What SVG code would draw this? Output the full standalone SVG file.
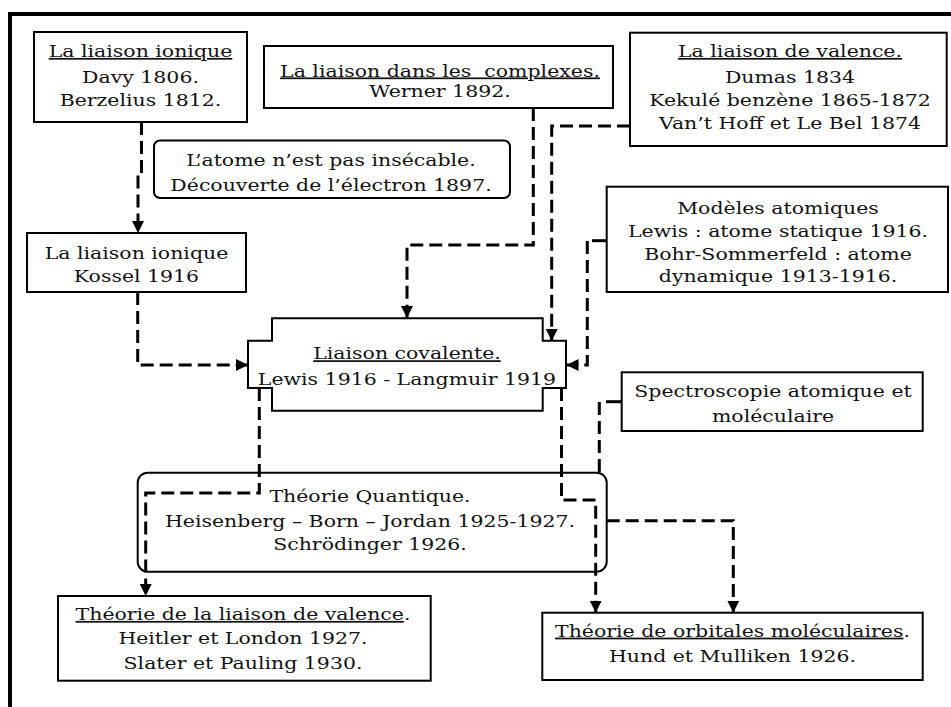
<svg xmlns="http://www.w3.org/2000/svg" width="951" height="707" viewBox="0 0 951 707">
  <style>
    .box { fill: #fff; stroke: #000; stroke-width: 2; }
    .frame { fill: none; stroke: #000; stroke-width: 4; }
    .link { fill: none; stroke: #000; stroke-width: 3; stroke-dasharray: 13 6; }
    .solid { fill: none; stroke: #000; stroke-width: 3; }
    text { font-family: "DejaVu Serif", "Liberation Serif", serif; font-size: 17.5px; fill: #111; text-anchor: middle; }
    .u { text-decoration: underline; }
  </style>
  <defs>
    <marker id="arrow" viewBox="0 0 12 12" refX="12" refY="6" markerWidth="12" markerHeight="12" markerUnits="userSpaceOnUse" orient="auto">
      <path d="M0,0 L12,6 L0,12 Z" fill="#000"/>
    </marker>
  </defs>

  <rect width="951" height="707" fill="#fff"/>
  <!-- outer frame: top and left edges -->
  <path class="frame" d="M10,707 V14 H951"/>

  <g id="ionique-davy">
    <rect class="box" x="34" y="32" width="213" height="90"/>
    <text transform="translate(140.5,57) scale(1.17,1)" class="u">La liaison ionique</text>
    <text transform="translate(140.5,83) scale(1.17,1)">Davy 1806.</text>
    <text transform="translate(140.5,106) scale(1.17,1)">Berzelius 1812.</text>
  </g>

  <g id="complexes">
    <rect class="box" x="264" y="46" width="349" height="62"/>
    <text transform="translate(440,76.5) scale(1.17,1)" class="u" style="white-space:pre">La liaison dans les  complexes.</text>
    <text transform="translate(440,96.7) scale(1.17,1)">Werner 1892.</text>
  </g>

  <g id="valence">
    <rect class="box" x="630" y="32.7" width="316.7" height="113.3"/>
    <text transform="translate(790,57) scale(1.17,1)" class="u">La liaison de valence.</text>
    <text transform="translate(790,83) scale(1.17,1)">Dumas 1834</text>
    <text transform="translate(790,106) scale(1.17,1)">Kekulé benzène 1865-1872</text>
    <text transform="translate(790,129) scale(1.17,1)">Van’t Hoff et Le Bel 1874</text>
  </g>

  <g id="electron">
    <rect class="box" x="154" y="140.5" width="356" height="57.5" rx="6"/>
    <text transform="translate(331,166) scale(1.17,1)">L’atome n’est pas insécable.</text>
    <text transform="translate(331,191) scale(1.17,1)">Découverte de l’électron 1897.</text>
  </g>

  <g id="ionique-kossel">
    <rect class="box" x="27" y="233" width="219" height="59"/>
    <text transform="translate(136.5,259) scale(1.17,1)">La liaison ionique</text>
    <text transform="translate(136.5,282) scale(1.17,1)">Kossel 1916</text>
  </g>

  <g id="modeles">
    <rect class="box" x="606.7" y="186.7" width="341.3" height="105.3"/>
    <text transform="translate(778,213.5) scale(1.17,1)">Modèles atomiques</text>
    <text transform="translate(778,236.7) scale(1.17,1)">Lewis : atome statique 1916.</text>
    <text transform="translate(778,259.5) scale(1.17,1)">Bohr-Sommerfeld : atome</text>
    <text transform="translate(778,282) scale(1.17,1)">dynamique 1913-1916.</text>
  </g>

  <g id="covalente">
    <path class="box" d="M272,318.3 H542.7 V340.7 H566 V388 H542.7 V410.7 H272 V388 H248 V340.7 H272 Z"/>
    <text transform="translate(407,359.3) scale(1.17,1)" class="u">Liaison covalente.</text>
    <text transform="translate(407,385) scale(1.17,1)">Lewis 1916 - Langmuir 1919</text>
  </g>

  <g id="spectroscopie">
    <rect class="box" x="621.7" y="372.3" width="301" height="58.7"/>
    <text transform="translate(773,396.7) scale(1.17,1)">Spectroscopie atomique et</text>
    <text transform="translate(773,421.7) scale(1.17,1)">moléculaire</text>
  </g>

  <g id="quantique">
    <rect class="box" x="137.7" y="472.7" width="469" height="99" rx="10"/>
    <text transform="translate(370,501.7) scale(1.17,1)">Théorie Quantique.</text>
    <text transform="translate(370,526.7) scale(1.17,1)">Heisenberg – Born – Jordan 1925-1927.</text>
    <text transform="translate(370,550) scale(1.17,1)">Schrödinger 1926.</text>
  </g>

  <g id="liaison-valence">
    <rect class="box" x="58" y="596" width="372.7" height="84.7"/>
    <text transform="translate(243,620) scale(1.17,1)"><tspan class="u">Théorie de la liaison de valence</tspan>.</text>
    <text transform="translate(243,644) scale(1.17,1)">Heitler et London 1927.</text>
    <text transform="translate(243,669) scale(1.17,1)">Slater et Pauling 1930.</text>
  </g>

  <g id="orbitales">
    <rect class="box" x="542.3" y="612.7" width="380.4" height="67.3"/>
    <text transform="translate(732.5,636.7) scale(1.17,1)"><tspan class="u">Théorie de orbitales moléculaires</tspan>.</text>
    <text transform="translate(732.5,661.7) scale(1.17,1)">Hund et Mulliken 1926.</text>
  </g>

  <!-- connectors, drawn last so they run over the quantum-theory box -->
  <g id="connectors">
    <path class="link" d="M141.5,122 V174 H138 V233" marker-end="url(#arrow)"/>
    <path class="link" d="M137.7,292 V365 H248" marker-end="url(#arrow)"/>
    <path class="link" d="M533.3,108 V245 H407 V318" marker-end="url(#arrow)"/>
    <path class="link" d="M630,126 H551.7 V341" marker-end="url(#arrow)"/>
    <path class="solid" d="M606.7,240.7 H592"/>
    <path class="link" d="M587.3,241 V365 H566.5" marker-end="url(#arrow)"/>
    <path class="solid" d="M621.7,401.7 H606"/>
    <path class="link" d="M599.3,402 V473"/>
    <path class="link" d="M259.3,388 V493 H145.7 V596" marker-end="url(#arrow)"/>
    <path class="link" d="M561.5,388 V500 H595.7 V612.7" marker-end="url(#arrow)"/>
    <path class="link" d="M606.7,520.7 H733.3 V612.7" marker-end="url(#arrow)"/>
  </g>
</svg>
